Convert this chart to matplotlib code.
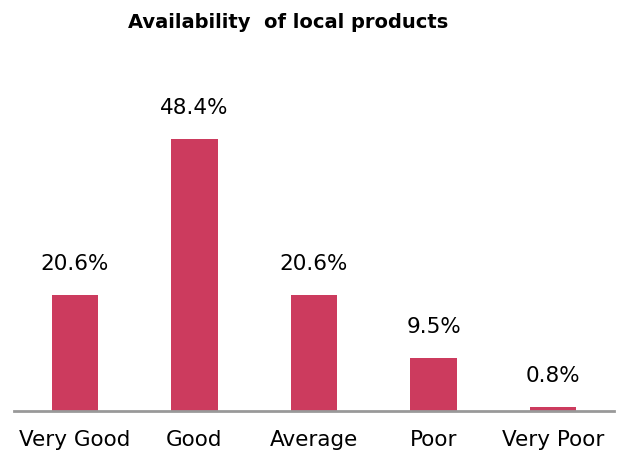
import matplotlib
matplotlib.use("Agg")
from matplotlib import pyplot as plt
import numpy as np

categories = ['Very Good', 'Good', 'Average', 'Poor', 'Very Poor']
shares = [20.6, 48.4, 20.6, 9.5, 0.8]
labels = ['20.6%', '48.4%', '20.6%', '9.5%', '0.8%']

bar_color = '#CC3B5E'

plt.rcParams['font.family'] = ['DejaVu Sans']

fig = plt.figure(figsize=(6.2, 4.56), dpi=100)
ax = fig.add_axes([14 / 620, 44 / 456, 600 / 620, 337 / 456])

x = np.arange(len(categories))
ax.bar(x, shares, width=0.39, color=bar_color)

for xi, v, lab in zip(x, shares, labels):
    ax.text(xi, v + 3.9, lab, ha='center', va='bottom', fontsize=15.5, color='black')

ax.set_xlim(-0.51, 4.51)
ax.set_ylim(0, 60)
ax.set_xticks(x)
ax.set_xticklabels(categories, fontsize=15.5)
ax.tick_params(axis='x', length=0, pad=13)
ax.set_yticks([])

for side in ['top', 'right', 'left']:
    ax.spines[side].set_visible(False)
ax.spines['bottom'].set_color('#999999')
ax.spines['bottom'].set_linewidth(2)

fig.text(288 / 620, 1 - 23 / 456, 'Availability  of local products', ha='center', va='center',
         fontsize=14, fontweight='bold')

fig.savefig('out.png', dpi=100)
